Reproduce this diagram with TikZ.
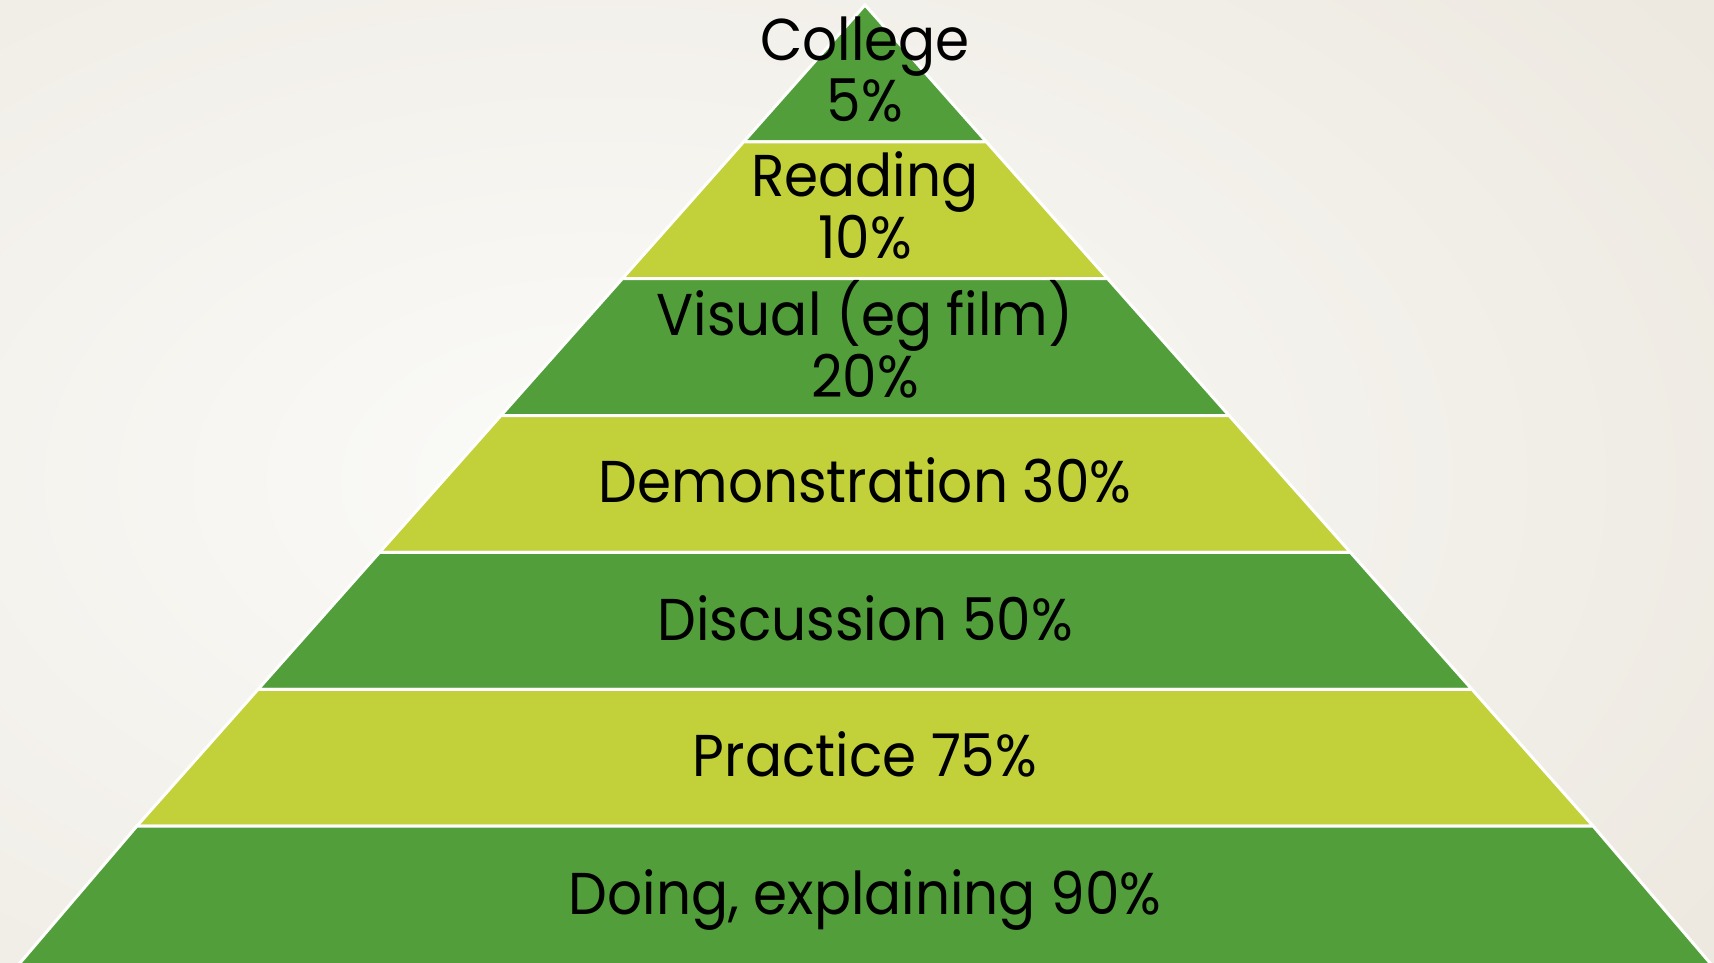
\documentclass[tikz,border=0pt]{standalone}
\usepackage{fontspec}
\setmainfont{Poppins}[FakeStretch=0.93]
\definecolor{bgin}{HTML}{FBFBF9}
\definecolor{bgout}{HTML}{E3DCCF}
\definecolor{darkgreen}{HTML}{529E3A}
\definecolor{lightgreen}{HTML}{C2D03A}
\pgfdeclareradialshading{bgrad}{\pgfpoint{0bp}{0bp}}{color(0bp)=(bgin); color(35bp)=(bgout); color(50bp)=(bgout)}
\tikzset{
  layerA/.style={fill=darkgreen, draw=white, line width=1.5pt, line join=miter},
  layerB/.style={fill=lightgreen, draw=white, line width=1.5pt, line join=miter},
  label/.style={font=\fontsize{29.5}{31}\selectfont, text=black, align=center, anchor=base, inner sep=0pt}
}
\begin{document}
\begin{tikzpicture}[x=0.5pt, y=-0.5pt]
\useasboundingbox (0,0) rectangle (1714,963);
\begin{scope}
\clip (0,0) rectangle (1714,963);
\fill[bgout] (0,0) rectangle (1714,963);
\shade[shading=bgrad] (600,480) ellipse [x radius=821pt, y radius=500pt];
% pyramid layers
\path[layerA] (865,5) -- (986.4,141.86) -- (743.6,141.86) -- cycle;
\path[layerB] (743.6,141.86) -- (986.4,141.86) -- (1107.7,278.71) -- (622.3,278.71) -- cycle;
\path[layerA] (622.3,278.71) -- (1107.7,278.71) -- (1229.1,415.57) -- (500.9,415.57) -- cycle;
\path[layerB] (500.9,415.57) -- (1229.1,415.57) -- (1350.5,552.43) -- (379.5,552.43) -- cycle;
\path[layerA] (379.5,552.43) -- (1350.5,552.43) -- (1471.9,689.29) -- (258.1,689.29) -- cycle;
\path[layerB] (258.1,689.29) -- (1471.9,689.29) -- (1593.2,826.14) -- (136.8,826.14) -- cycle;
\path[layerA] (136.8,826.14) -- (1593.2,826.14) -- (1716,970) -- (14,970) -- cycle;
\end{scope}
% labels (multi-line nodes: base = last line's baseline)
\node[label] (college) at (865,122) {College\\5\%};
\node[label] (reading) at (865,258) {Reading\\10\%};
\node[label] (visual) at (865,397) {Visual (eg film)\\20\%};
\node[label] (demo) at (865,502.5) {Demonstration 30\%};
\node[label] (discuss) at (865,640.5) {Discussion 50\%};
\node[label] (practice) at (865,776.5) {Practice 75\%};
\node[label] (doing) at (865,914) {Doing, explaining 90\%};
\end{tikzpicture}
\end{document}
